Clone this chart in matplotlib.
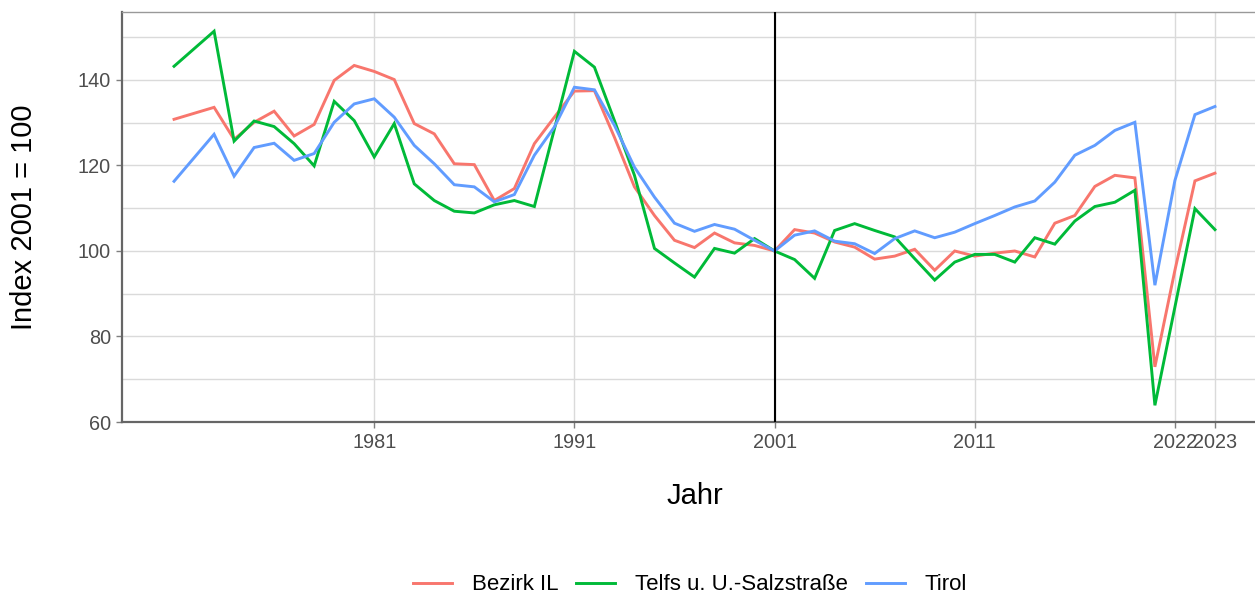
import numpy as np
import matplotlib
matplotlib.use('Agg')
import matplotlib.pyplot as plt

plt.rcParams['font.family'] = ['Liberation Sans', 'DejaVu Sans']

years = list(range(1971, 2024))

bezirk_il = [130.8, 132.2, 133.6, 126.1, 130.1, 132.7, 126.9, 129.6, 139.9, 143.4,
             142.0, 140.1, 129.8, 127.4, 120.4, 120.2, 111.8, 114.6, 125.1, 131.3,
             137.4, 137.5, 126.6, 115.0, 108.3, 102.5, 100.8, 104.2, 101.9, 101.3,
             100.0, 105.0, 104.2, 102.1, 100.9, 98.1, 98.8, 100.4, 95.5, 100.0,
             98.8, 99.5, 100.0, 98.6, 106.5, 108.3, 115.1, 117.7, 117.1, 72.9,
             95.5, 116.4, 118.2]

telfs = [143.2, 147.3, 151.4, 125.7, 130.4, 129.1, 125.1, 119.9, 135.0, 130.5,
         122.0, 129.8, 115.7, 111.8, 109.3, 108.9, 110.8, 111.8, 110.4, 128.5,
         146.7, 143.0, 130.5, 117.7, 100.6, 97.2, 93.9, 100.6, 99.5, 102.9,
         100.0, 98.0, 93.6, 104.8, 106.4, 104.8, 103.3, 98.2, 93.2, 97.4,
         99.2, 99.2, 97.4, 103.1, 101.6, 107.0, 110.4, 111.4, 114.2, 63.9,
         86.9, 109.9, 105.0]

tirol = [116.3, 121.8, 127.3, 117.5, 124.2, 125.2, 121.2, 122.8, 130.1, 134.4,
         135.6, 131.3, 124.7, 120.4, 115.5, 115.0, 111.5, 113.2, 122.4, 129.0,
         138.3, 137.7, 129.4, 119.6, 112.6, 106.5, 104.6, 106.2, 105.1, 102.5,
         100.0, 103.7, 104.7, 102.3, 101.7, 99.4, 102.9, 104.7, 103.1, 104.4,
         106.4, 108.3, 110.3, 111.7, 116.1, 122.4, 124.7, 128.2, 130.1, 92.0,
         116.5, 131.9, 133.8]

series_names = ['Bezirk IL', 'Telfs u. U.-Salzstraße', 'Tirol']
colors = ['#F8766D', '#00BA38', '#619CFF']

tick_pos = [1981, 1991, 2001, 2011, 2021, 2023]
tick_labels = ['1981', '1991', '2001', '2011', '2022', '2023']

W, H = 1255, 595
fig = plt.figure(figsize=(W / 100, H / 100), dpi=100)
ax = fig.add_axes([122 / W, 173 / H, (1267 - 122) / W, (422 - 12) / H])

for vals, name, c in zip([bezirk_il, telfs, tirol], series_names, colors):
    ax.plot(years, vals, color=c, lw=2.1, label=name, solid_joinstyle='miter')

ax.axvline(2001, color='black', lw=1.5, zorder=3)

ax.set_xlim(1968.4, 2025.6)
ax.set_ylim(60, 155.9)
ax.set_xticks(tick_pos)
ax.set_xticklabels(tick_labels)
ax.set_yticks([60, 80, 100, 120, 140])
ax.set_yticks([70, 90, 110, 130, 150], minor=True)

ax.grid(True, which='major', color='#DADADA', lw=1.0)
ax.grid(True, which='minor', axis='y', color='#DADADA', lw=1.0)
ax.set_axisbelow(True)

for s in ['left', 'bottom']:
    ax.spines[s].set_color('#666666')
    ax.spines[s].set_linewidth(1.6)
ax.spines['top'].set_color('#999999')
ax.spines['top'].set_linewidth(1.0)
ax.spines['right'].set_visible(False)

ax.tick_params(axis='both', which='major', colors='#7F7F7F', length=4, width=1,
               labelcolor='#4D4D4D', labelsize=14.3, pad=4)
ax.tick_params(axis='both', which='minor', length=0)

ax.set_xlabel('Jahr', fontsize=21)
ax.set_ylabel('Index 2001 = 100', fontsize=21)
ax.xaxis.set_label_coords(0.5004, -0.146)
ax.yaxis.set_label_coords(-0.0735, 0.5)

leg = fig.legend(loc='center', bbox_to_anchor=(690 / W, 1 - 585 / H), ncol=3,
                 frameon=False, fontsize=16, handlelength=1.75,
                 columnspacing=0.8, handletextpad=0.9)

fig.savefig('out.png', dpi=100)
